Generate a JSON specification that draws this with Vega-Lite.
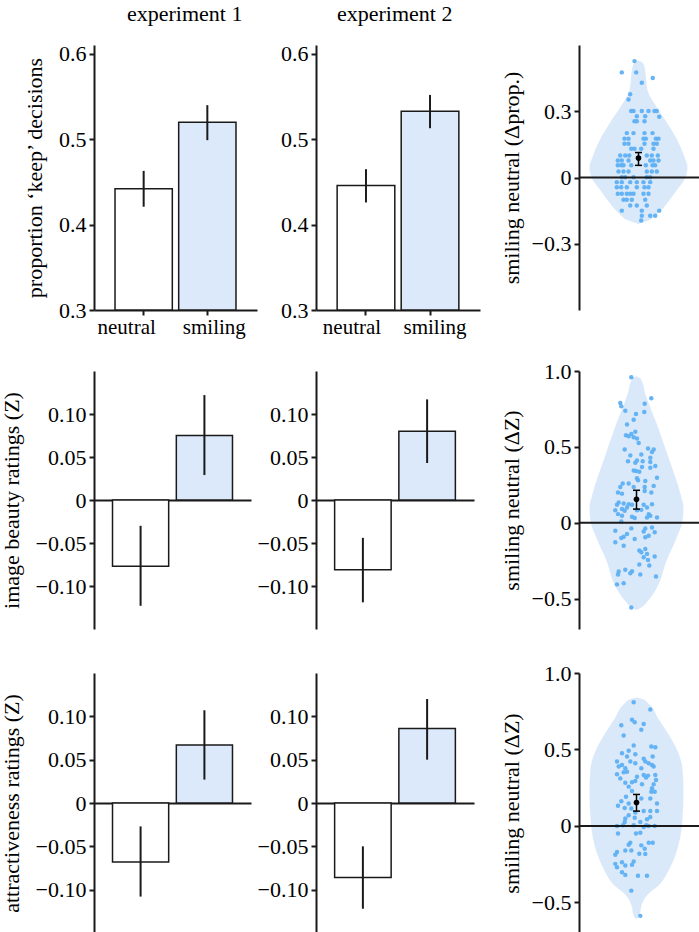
{
"$schema": "https://vega.github.io/schema/vega-lite/v6.json",
"autosize": {"type": "pad"},
"padding": {"left": 0, "top": 3, "right": 0, "bottom": 0},
"columns": 3,
"align": "each",
"bounds": "flush",
"spacing": {"row": 44, "column": 59},
"datasets": {
"bars": [
{"m":"keep","e":1,"c":"neutral","v":0.442,"lo":0.421,"hi":0.463},
{"m":"keep","e":1,"c":"smiling","v":0.520,"lo":0.499,"hi":0.540},
{"m":"keep","e":2,"c":"neutral","v":0.446,"lo":0.426,"hi":0.465},
{"m":"keep","e":2,"c":"smiling","v":0.533,"lo":0.513,"hi":0.552},
{"m":"beauty","e":1,"c":"neutral","v":-0.077,"lo":-0.123,"hi":-0.030},
{"m":"beauty","e":1,"c":"smiling","v":0.075,"lo":0.029,"hi":0.122},
{"m":"beauty","e":2,"c":"neutral","v":-0.081,"lo":-0.119,"hi":-0.044},
{"m":"beauty","e":2,"c":"smiling","v":0.080,"lo":0.043,"hi":0.117},
{"m":"attract","e":1,"c":"neutral","v":-0.068,"lo":-0.108,"hi":-0.027},
{"m":"attract","e":1,"c":"smiling","v":0.067,"lo":0.027,"hi":0.107},
{"m":"attract","e":2,"c":"neutral","v":-0.086,"lo":-0.122,"hi":-0.050},
{"m":"attract","e":2,"c":"smiling","v":0.086,"lo":0.050,"hi":0.120}
],
"means": [
{"m":"keep","v":0.088,"lo":0.055,"hi":0.113},
{"m":"beauty","v":0.155,"lo":0.090,"hi":0.214},
{"m":"attract","v":0.153,"lo":0.097,"hi":0.206}
],
"violin": [
{"m":"keep","v":0.53,"l":0,"r":0},{"m":"keep","v":0.52,"l":-4,"r":4},{"m":"keep","v":0.50,"l":-6,"r":6},{"m":"keep","v":0.45,"l":-7.5,"r":7.5},{"m":"keep","v":0.395,"l":-9,"r":9},{"m":"keep","v":0.32,"l":-18,"r":18},{"m":"keep","v":0.245,"l":-29,"r":29},{"m":"keep","v":0.168,"l":-39,"r":39},{"m":"keep","v":0.093,"l":-46,"r":46},{"m":"keep","v":0.047,"l":-49,"r":49},{"m":"keep","v":0.0,"l":-47,"r":47},{"m":"keep","v":-0.059,"l":-38,"r":38},{"m":"keep","v":-0.12,"l":-28,"r":28},{"m":"keep","v":-0.165,"l":-19,"r":19},{"m":"keep","v":-0.195,"l":-10,"r":10},{"m":"keep","v":-0.21,"l":0,"r":0},
{"m":"beauty","v":0.965,"l":0,"r":0},{"m":"beauty","v":0.95,"l":-4,"r":4},{"m":"beauty","v":0.845,"l":-9,"r":9},{"m":"beauty","v":0.62,"l":-22,"r":22},{"m":"beauty","v":0.41,"l":-33,"r":33},{"m":"beauty","v":0.19,"l":-44,"r":44},{"m":"beauty","v":0.10,"l":-47,"r":47},{"m":"beauty","v":0.01,"l":-46,"r":46},{"m":"beauty","v":-0.10,"l":-40,"r":40},{"m":"beauty","v":-0.25,"l":-30,"r":30},{"m":"beauty","v":-0.42,"l":-21,"r":21},{"m":"beauty","v":-0.51,"l":-12,"r":12},{"m":"beauty","v":-0.565,"l":-3,"r":3},{"m":"beauty","v":-0.575,"l":0,"r":0},
{"m":"attract","v":0.84,"l":0,"r":0},{"m":"attract","v":0.83,"l":-6,"r":6},{"m":"attract","v":0.80,"l":-12,"r":12},{"m":"attract","v":0.70,"l":-22,"r":22},{"m":"attract","v":0.60,"l":-32,"r":32},{"m":"attract","v":0.49,"l":-41,"r":41},{"m":"attract","v":0.375,"l":-46,"r":46},{"m":"attract","v":0.22,"l":-47,"r":47},{"m":"attract","v":0.05,"l":-46,"r":46},{"m":"attract","v":-0.125,"l":-42,"r":42},{"m":"attract","v":-0.28,"l":-33,"r":33},{"m":"attract","v":-0.39,"l":-22,"r":22},{"m":"attract","v":-0.45,"l":-11,"r":11},{"m":"attract","v":-0.52,"l":-5,"r":5},{"m":"attract","v":-0.585,"l":-3,"r":3},{"m":"attract","v":-0.61,"l":0,"r":0}
],
"pts": [
{"m":"keep","x":-4,"y":0.527},{"m":"keep","x":-16.7,"y":0.476},{"m":"keep","x":-2.3,"y":0.476},{"m":"keep","x":14.3,"y":0.451},{"m":"keep","x":3.3,"y":0.429},{"m":"keep","x":-8.3,"y":0.377},{"m":"keep","x":-10,"y":0.353},
{"m":"keep","x":-7.3,"y":0.301},{"m":"keep","x":-5,"y":0.301},{"m":"keep","x":3.3,"y":0.301},{"m":"keep","x":10,"y":0.301},{"m":"keep","x":16,"y":0.301},{"m":"keep","x":18.3,"y":0.301},
{"m":"keep","x":-1.7,"y":0.277},{"m":"keep","x":6.7,"y":0.277},{"m":"keep","x":20.7,"y":0.275},
{"m":"keep","x":-4,"y":0.255},{"m":"keep","x":-1.7,"y":0.255},{"m":"keep","x":6,"y":0.255},
{"m":"keep","x":-11.7,"y":0.201},{"m":"keep","x":-5,"y":0.201},{"m":"keep","x":6,"y":0.201},{"m":"keep","x":14,"y":0.201},
{"m":"keep","x":-14,"y":0.176},{"m":"keep","x":-10,"y":0.176},{"m":"keep","x":5,"y":0.176},{"m":"keep","x":7.3,"y":0.176},{"m":"keep","x":17.3,"y":0.176},{"m":"keep","x":20,"y":0.176},
{"m":"keep","x":-14,"y":0.153},{"m":"keep","x":-10,"y":0.153},{"m":"keep","x":6,"y":0.153},{"m":"keep","x":15,"y":0.153},{"m":"keep","x":18.3,"y":0.153},
{"m":"keep","x":-7.3,"y":0.130},{"m":"keep","x":-4,"y":0.130},{"m":"keep","x":2.7,"y":0.130},{"m":"keep","x":15,"y":0.130},
{"m":"keep","x":-18.3,"y":0.100},{"m":"keep","x":-13.3,"y":0.100},{"m":"keep","x":-9.3,"y":0.100},{"m":"keep","x":8.3,"y":0.100},{"m":"keep","x":13.3,"y":0.100},{"m":"keep","x":19.3,"y":0.100},
{"m":"keep","x":-20.7,"y":0.077},{"m":"keep","x":-16.7,"y":0.077},{"m":"keep","x":-10,"y":0.077},{"m":"keep","x":11.7,"y":0.077},{"m":"keep","x":15,"y":0.077},{"m":"keep","x":20,"y":0.077},
{"m":"keep","x":-20.7,"y":0.055},{"m":"keep","x":-17.3,"y":0.055},{"m":"keep","x":-15,"y":0.055},{"m":"keep","x":-7.3,"y":0.055},{"m":"keep","x":7.3,"y":0.055},{"m":"keep","x":14,"y":0.055},{"m":"keep","x":16.7,"y":0.055},
{"m":"keep","x":-20,"y":0.027},{"m":"keep","x":-15,"y":0.027},{"m":"keep","x":-10,"y":0.027},{"m":"keep","x":8.3,"y":0.027},{"m":"keep","x":13.3,"y":0.027},{"m":"keep","x":18.3,"y":0.027},
{"m":"keep","x":-16.7,"y":0.001},{"m":"keep","x":-13.3,"y":0.001},{"m":"keep","x":-5,"y":0.001},{"m":"keep","x":8.3,"y":0.001},{"m":"keep","x":11.7,"y":0.001},
{"m":"keep","x":-21.7,"y":-0.021},{"m":"keep","x":-16.7,"y":-0.021},{"m":"keep","x":-8.3,"y":-0.021},{"m":"keep","x":-1.7,"y":-0.021},{"m":"keep","x":5,"y":-0.021},{"m":"keep","x":11.7,"y":-0.021},
{"m":"keep","x":-21.7,"y":-0.044},{"m":"keep","x":-17.3,"y":-0.044},{"m":"keep","x":-11.7,"y":-0.044},{"m":"keep","x":-1.7,"y":-0.044},{"m":"keep","x":6,"y":-0.044},{"m":"keep","x":10,"y":-0.044},
{"m":"keep","x":-20.7,"y":-0.074},{"m":"keep","x":-16.7,"y":-0.074},{"m":"keep","x":-11.7,"y":-0.074},{"m":"keep","x":-8.3,"y":-0.074},{"m":"keep","x":-5,"y":-0.074},{"m":"keep","x":5,"y":-0.074},{"m":"keep","x":10,"y":-0.074},
{"m":"keep","x":-15,"y":-0.101},{"m":"keep","x":-11.7,"y":-0.101},{"m":"keep","x":-6.7,"y":-0.101},{"m":"keep","x":6.7,"y":-0.101},
{"m":"keep","x":-8.3,"y":-0.127},{"m":"keep","x":-1.7,"y":-0.127},{"m":"keep","x":8.3,"y":-0.127},
{"m":"keep","x":-16.7,"y":-0.150},{"m":"keep","x":3.3,"y":-0.150},{"m":"keep","x":20.7,"y":-0.150},
{"m":"keep","x":3.3,"y":-0.173},{"m":"keep","x":11.7,"y":-0.173},{"m":"keep","x":16.7,"y":-0.173},
{"m":"keep","x":2.7,"y":-0.195},
{"m":"beauty","x":-5.2,"y":0.959},{"m":"beauty","x":14.8,"y":0.821},{"m":"beauty","x":-16.2,"y":0.789},{"m":"beauty","x":8.2,"y":0.784},{"m":"beauty","x":-15.2,"y":0.767},{"m":"beauty","x":-11.2,"y":0.738},{"m":"beauty","x":-0.5,"y":0.716},{"m":"beauty","x":7.8,"y":0.730},{"m":"beauty","x":-2.8,"y":0.679},{"m":"beauty","x":-9.5,"y":0.647},
{"m":"beauty","x":-1.2,"y":0.599},{"m":"beauty","x":-5.2,"y":0.585},{"m":"beauty","x":-10.5,"y":0.577},{"m":"beauty","x":-7.8,"y":0.570},{"m":"beauty","x":-2.8,"y":0.564},{"m":"beauty","x":0.5,"y":0.555},{"m":"beauty","x":2.2,"y":0.526},
{"m":"beauty","x":-11.8,"y":0.483},{"m":"beauty","x":11.5,"y":0.489},{"m":"beauty","x":17.2,"y":0.483},{"m":"beauty","x":15.5,"y":0.467},{"m":"beauty","x":4.8,"y":0.450},{"m":"beauty","x":-6.2,"y":0.444},{"m":"beauty","x":13.8,"y":0.428},
{"m":"beauty","x":0.5,"y":0.411},{"m":"beauty","x":6.2,"y":0.406},{"m":"beauty","x":-8.5,"y":0.406},{"m":"beauty","x":13.8,"y":0.400},{"m":"beauty","x":-1.2,"y":0.395},{"m":"beauty","x":18.8,"y":0.374},{"m":"beauty","x":13.8,"y":0.363},{"m":"beauty","x":5.5,"y":0.367},
{"m":"beauty","x":-2.8,"y":0.345},{"m":"beauty","x":-0.5,"y":0.341},{"m":"beauty","x":2.8,"y":0.336},{"m":"beauty","x":20.5,"y":0.297},{"m":"beauty","x":0.5,"y":0.293},{"m":"beauty","x":1.5,"y":0.280},
{"m":"beauty","x":-13.8,"y":0.258},{"m":"beauty","x":-7.8,"y":0.258},{"m":"beauty","x":8.8,"y":0.275},{"m":"beauty","x":-16.2,"y":0.236},{"m":"beauty","x":-2.8,"y":0.236},{"m":"beauty","x":8.2,"y":0.236},{"m":"beauty","x":17.2,"y":0.243},
{"m":"beauty","x":-18.5,"y":0.199},{"m":"beauty","x":-14.5,"y":0.192},{"m":"beauty","x":14.8,"y":0.199},{"m":"beauty","x":8.2,"y":0.210},
{"m":"beauty","x":-17.8,"y":0.133},{"m":"beauty","x":-19.5,"y":0.118},{"m":"beauty","x":-12.8,"y":0.127},{"m":"beauty","x":-7.8,"y":0.122},{"m":"beauty","x":-4.5,"y":0.118},{"m":"beauty","x":-9.5,"y":0.100},{"m":"beauty","x":15.5,"y":0.122},{"m":"beauty","x":7.2,"y":0.118},{"m":"beauty","x":10.5,"y":0.100},
{"m":"beauty","x":-21.2,"y":0.083},{"m":"beauty","x":-14.5,"y":0.090},{"m":"beauty","x":-11.8,"y":0.079},{"m":"beauty","x":0.5,"y":0.083},{"m":"beauty","x":4.8,"y":0.085},{"m":"beauty","x":12.2,"y":0.057},{"m":"beauty","x":13.8,"y":0.046},{"m":"beauty","x":-18.5,"y":0.057},{"m":"beauty","x":-4.5,"y":0.039},{"m":"beauty","x":-1.8,"y":0.031},{"m":"beauty","x":-14.5,"y":0.046},{"m":"beauty","x":20.5,"y":0.035},{"m":"beauty","x":10.5,"y":0.035},
{"m":"beauty","x":-15.2,"y":0.009},
{"m":"beauty","x":-5.2,"y":-0.037},{"m":"beauty","x":8.8,"y":-0.037},{"m":"beauty","x":15.5,"y":-0.031},{"m":"beauty","x":-21.2,"y":-0.052},{"m":"beauty","x":7.2,"y":-0.057},{"m":"beauty","x":-9.5,"y":-0.074},{"m":"beauty","x":-12.8,"y":-0.092},{"m":"beauty","x":-15.2,"y":-0.100},{"m":"beauty","x":12.2,"y":-0.085},{"m":"beauty","x":18.2,"y":-0.063},{"m":"beauty","x":-1.8,"y":-0.107},{"m":"beauty","x":8.8,"y":-0.096},
{"m":"beauty","x":-21.2,"y":-0.129},{"m":"beauty","x":-12.8,"y":-0.151},
{"m":"beauty","x":2.8,"y":-0.183},{"m":"beauty","x":4.8,"y":-0.194},{"m":"beauty","x":10.5,"y":-0.205},{"m":"beauty","x":8.8,"y":-0.173},{"m":"beauty","x":18.2,"y":-0.223},{"m":"beauty","x":7.2,"y":-0.227},{"m":"beauty","x":11.5,"y":-0.245},
{"m":"beauty","x":2.8,"y":-0.275},{"m":"beauty","x":12.8,"y":-0.282},{"m":"beauty","x":-17.8,"y":-0.321},{"m":"beauty","x":-11.2,"y":-0.310},{"m":"beauty","x":-4.5,"y":-0.319},{"m":"beauty","x":-18.5,"y":-0.341},{"m":"beauty","x":-6.2,"y":-0.332},{"m":"beauty","x":3.8,"y":-0.341},{"m":"beauty","x":-12.8,"y":-0.398},{"m":"beauty","x":-19.5,"y":-0.406},{"m":"beauty","x":19.5,"y":-0.354},
{"m":"beauty","x":-5.2,"y":-0.559},
{"m":"attract","x":-2.8,"y":0.809},{"m":"attract","x":13.8,"y":0.761},
{"m":"attract","x":-4.5,"y":0.695},{"m":"attract","x":-15.2,"y":0.658},{"m":"attract","x":-1.8,"y":0.678},{"m":"attract","x":7.2,"y":0.667},{"m":"attract","x":4.8,"y":0.629},{"m":"attract","x":-12.8,"y":0.592},
{"m":"attract","x":-2.8,"y":0.526},{"m":"attract","x":14.8,"y":0.520},{"m":"attract","x":18.8,"y":0.515},{"m":"attract","x":-7.8,"y":0.491},{"m":"attract","x":-14.5,"y":0.476},{"m":"attract","x":-1.2,"y":0.469},{"m":"attract","x":-9.5,"y":0.454},{"m":"attract","x":-19.5,"y":0.421},{"m":"attract","x":-6.2,"y":0.421},{"m":"attract","x":7.2,"y":0.439},{"m":"attract","x":8.8,"y":0.421},{"m":"attract","x":12.2,"y":0.410},{"m":"attract","x":15.5,"y":0.399},{"m":"attract","x":16.2,"y":0.454},
{"m":"attract","x":-17.8,"y":0.388},{"m":"attract","x":-14.5,"y":0.399},{"m":"attract","x":-11.2,"y":0.377},{"m":"attract","x":-1.2,"y":0.410},{"m":"attract","x":17.2,"y":0.388},{"m":"attract","x":4.8,"y":0.377},{"m":"attract","x":-12.8,"y":0.351},{"m":"attract","x":-9.5,"y":0.355},{"m":"attract","x":-19.5,"y":0.338},{"m":"attract","x":0.5,"y":0.322},{"m":"attract","x":7.2,"y":0.333},{"m":"attract","x":18.8,"y":0.333},
{"m":"attract","x":-16.2,"y":0.311},{"m":"attract","x":9.5,"y":0.316},{"m":"attract","x":11.5,"y":0.329},{"m":"attract","x":-1.2,"y":0.294},{"m":"attract","x":-11.2,"y":0.283},{"m":"attract","x":-4.5,"y":0.285},{"m":"attract","x":19.5,"y":0.301},{"m":"attract","x":5.5,"y":0.272},{"m":"attract","x":17.2,"y":0.272},
{"m":"attract","x":-7.8,"y":0.257},{"m":"attract","x":15.5,"y":0.246},{"m":"attract","x":14.8,"y":0.224},{"m":"attract","x":18.2,"y":0.224},{"m":"attract","x":-4.5,"y":0.228},
{"m":"attract","x":-10.5,"y":0.191},{"m":"attract","x":-15.2,"y":0.162},{"m":"attract","x":13.8,"y":0.180},{"m":"attract","x":4.8,"y":0.180},{"m":"attract","x":-7.8,"y":0.147},
{"m":"attract","x":-18.5,"y":0.132},{"m":"attract","x":-11.8,"y":0.118},{"m":"attract","x":20.5,"y":0.147},{"m":"attract","x":-1.2,"y":0.088},{"m":"attract","x":13.8,"y":0.097},{"m":"attract","x":7.2,"y":0.097},{"m":"attract","x":20.5,"y":0.097},{"m":"attract","x":-5.2,"y":0.114},
{"m":"attract","x":-7.8,"y":0.070},{"m":"attract","x":-11.2,"y":0.048},{"m":"attract","x":-1.8,"y":0.053},{"m":"attract","x":13.8,"y":0.059},{"m":"attract","x":-11.8,"y":0.026},{"m":"attract","x":10.5,"y":0.044},{"m":"attract","x":3.8,"y":0.026},{"m":"attract","x":-13.5,"y":0.004},{"m":"attract","x":9.8,"y":0.004},{"m":"attract","x":-19.5,"y":0.0},{"m":"attract","x":18.2,"y":0.0},{"m":"attract","x":7.2,"y":-0.007},{"m":"attract","x":12.2,"y":0.0},{"m":"attract","x":-2.8,"y":0.004},
{"m":"attract","x":-18.5,"y":-0.050},{"m":"attract","x":-0.5,"y":-0.050},{"m":"attract","x":3.8,"y":-0.044},
{"m":"attract","x":-6.2,"y":-0.110},{"m":"attract","x":-7.8,"y":-0.123},{"m":"attract","x":4.8,"y":-0.127},{"m":"attract","x":12.2,"y":-0.110},{"m":"attract","x":16.2,"y":-0.110},{"m":"attract","x":8.2,"y":-0.149},{"m":"attract","x":-5.2,"y":-0.160},{"m":"attract","x":2.8,"y":-0.182},{"m":"attract","x":-19.5,"y":-0.171},{"m":"attract","x":-21.2,"y":-0.189},{"m":"attract","x":8.8,"y":-0.184},{"m":"attract","x":-11.2,"y":-0.160},
{"m":"attract","x":-21.2,"y":-0.248},{"m":"attract","x":-14.5,"y":-0.237},{"m":"attract","x":-2.8,"y":-0.232},{"m":"attract","x":-19.5,"y":-0.270},{"m":"attract","x":-11.2,"y":-0.259},{"m":"attract","x":-4.5,"y":-0.254},{"m":"attract","x":-14.5,"y":-0.303},{"m":"attract","x":-11.2,"y":-0.320},{"m":"attract","x":1.5,"y":-0.325},{"m":"attract","x":10.5,"y":-0.325},
{"m":"attract","x":-5.2,"y":-0.423},
{"m":"attract","x":3.8,"y":-0.588}
]
},
"concat": [
{
"width": 163, "height": 282,
"title": {"text": "experiment 1", "anchor": "start", "frame": "group", "dx": 33, "offset": 2},
"data": {"name": "bars"},
"transform": [{"filter": "datum.m == 'keep' && datum.e == 1"}],
"layer": [
{"mark": {"type": "bar", "stroke": "#1a1a1a", "strokeWidth": 1.5},
"encoding": {
"x": {"field": "c", "type": "nominal", "scale": {"domain": ["neutral","smiling"], "range": [0,163], "paddingInner": 0.1, "paddingOuter": 0.33}, "axis": {"title": null, "labelAngle": 0, "labelPadding": 1, "labelFontSize": 21, "labelOffset": {"condition": {"test": "datum.value == 'neutral'", "value": -17}, "value": 7}}},
"y": {"field": "v", "type": "quantitative", "scale": {"domain": [0.3,0.6105], "range": [282,17], "nice": false, "zero": false}, "axis": {"values": [0.3,0.4,0.5,0.6], "format": ".1f", "title": "proportion ‘keep’ decisions"}},
"y2": {"datum": 0.3},
"fill": {"field": "c", "type": "nominal", "scale": {"domain": ["neutral","smiling"], "range": ["#ffffff","#dbe9fb"]}, "legend": null}
}},
{"mark": {"type": "rule", "strokeWidth": 2, "color": "#1a1a1a"},
"encoding": {"x": {"field": "c", "type": "nominal"}, "y": {"field": "lo", "type": "quantitative"}, "y2": {"field": "hi"}}}
]
},
{
"width": 204, "height": 282,
"title": {"text": "experiment 2", "anchor": "start", "frame": "group", "dx": 21, "offset": 2},
"data": {"name": "bars"},
"transform": [{"filter": "datum.m == 'keep' && datum.e == 2"}],
"layer": [
{"mark": {"type": "bar", "stroke": "#1a1a1a", "strokeWidth": 1.5},
"encoding": {
"x": {"field": "c", "type": "nominal", "scale": {"domain": ["neutral","smiling"], "range": [0,164], "paddingInner": 0.1, "paddingOuter": 0.33}, "axis": {"title": null, "labelAngle": 0, "labelPadding": 1, "labelFontSize": 21, "labelOffset": {"condition": {"test": "datum.value == 'neutral'", "value": -14}, "value": 5}}},
"y": {"field": "v", "type": "quantitative", "scale": {"domain": [0.3,0.6105], "range": [282,17], "nice": false, "zero": false}, "axis": {"values": [0.3,0.4,0.5,0.6], "format": ".1f", "title": null}},
"y2": {"datum": 0.3},
"fill": {"field": "c", "type": "nominal", "scale": {"domain": ["neutral","smiling"], "range": ["#ffffff","#dbe9fb"]}, "legend": null}
}},
{"mark": {"type": "rule", "strokeWidth": 2, "color": "#1a1a1a"},
"encoding": {"x": {"field": "c", "type": "nominal"}, "y": {"field": "lo", "type": "quantitative"}, "y2": {"field": "hi"}}}
]
},
{
"width": 120, "height": 282,
"layer": [
{"data": {"name": "violin"}, "transform": [{"filter": "datum.m == 'keep'"}],
"mark": {"type": "area", "orient": "horizontal", "interpolate": "monotone", "color": "#dae9fa", "opacity": 1},
"encoding": {
"y": {"field": "v", "type": "quantitative", "scale": {"domain": [-0.6,0.6], "range": [282,17], "nice": false, "zero": false}, "axis": {"values": [-0.3,0,0.3], "format": ".1f", "labelExpr": "datum.value == 0 ? '0' : datum.label", "title": "smiling neutral (Δprop.)", "titlePadding": 8}},
"x": {"field": "l", "type": "quantitative", "scale": {"domain": [-59.5,60.5], "nice": false, "zero": false}, "axis": null},
"x2": {"field": "r"}
}},
{"data": {"name": "pts"}, "transform": [{"filter": "datum.m == 'keep'"}],
"mark": {"type": "circle", "size": 20, "opacity": 0.95, "color": "#5eb0f3"},
"encoding": {"x": {"field": "x", "type": "quantitative", "axis": null}, "y": {"field": "y", "type": "quantitative"}}},
{"data": {"name": "means"}, "transform": [{"filter": "datum.m == 'keep'"}],
"mark": {"type": "rule", "strokeWidth": 2, "color": "#1a1a1a"},
"encoding": {"y": {"datum": 0}}},
{"data": {"name": "means"}, "transform": [{"filter": "datum.m == 'keep'"}],
"mark": {"type": "rule", "strokeWidth": 1.5, "color": "black"},
"encoding": {"x": {"datum": 0, "axis": null}, "y": {"field": "lo", "type": "quantitative"}, "y2": {"field": "hi"}}},
{"data": {"name": "means"}, "transform": [{"filter": "datum.m == 'keep'"}],
"mark": {"type": "tick", "orient": "horizontal", "size": 7, "thickness": 1.5, "color": "black", "opacity": 1},
"encoding": {"x": {"datum": 0, "axis": null}, "y": {"field": "lo", "type": "quantitative"}}},
{"data": {"name": "means"}, "transform": [{"filter": "datum.m == 'keep'"}],
"mark": {"type": "tick", "orient": "horizontal", "size": 7, "thickness": 1.5, "color": "black", "opacity": 1},
"encoding": {"x": {"datum": 0, "axis": null}, "y": {"field": "hi", "type": "quantitative"}}},
{"data": {"name": "means"}, "transform": [{"filter": "datum.m == 'keep'"}],
"mark": {"type": "circle", "size": 32, "opacity": 1, "color": "black"},
"encoding": {"x": {"datum": 0, "axis": null}, "y": {"field": "v", "type": "quantitative"}}}
]
},
{
"width": 163, "height": 275,
"data": {"name": "bars"},
"transform": [{"filter": "datum.m == 'beauty' && datum.e == 1"}],
"layer": [
{"mark": {"type": "bar", "stroke": "#1a1a1a", "strokeWidth": 1.5},
"encoding": {
"x": {"field": "c", "type": "nominal", "scale": {"domain": ["neutral","smiling"], "range": [0,157], "paddingInner": 0.12, "paddingOuter": 0.29}, "axis": {"title": null, "labels": false, "ticks": false, "offset": -129}},
"y": {"field": "v", "type": "quantitative", "scale": {"domain": [-0.15,0.15], "range": [275,17], "nice": false}, "axis": {"values": [-0.1,-0.05,0,0.05,0.1], "format": ".2f", "labelExpr": "datum.value == 0 ? '0' : datum.label", "title": "image beauty ratings (Z)"}},
"y2": {"datum": 0},
"fill": {"field": "c", "type": "nominal", "scale": {"domain": ["neutral","smiling"], "range": ["#ffffff","#dbe9fb"]}, "legend": null}
}},
{"mark": {"type": "rule", "strokeWidth": 2, "color": "#1a1a1a"},
"encoding": {"x": {"field": "c", "type": "nominal"}, "y": {"field": "lo", "type": "quantitative"}, "y2": {"field": "hi"}}}
]
},
{
"width": 204, "height": 275,
"data": {"name": "bars"},
"transform": [{"filter": "datum.m == 'beauty' && datum.e == 2"}],
"layer": [
{"mark": {"type": "bar", "stroke": "#1a1a1a", "strokeWidth": 1.5},
"encoding": {
"x": {"field": "c", "type": "nominal", "scale": {"domain": ["neutral","smiling"], "range": [0,158], "paddingInner": 0.12, "paddingOuter": 0.29}, "axis": {"title": null, "labels": false, "ticks": false, "offset": -129}},
"y": {"field": "v", "type": "quantitative", "scale": {"domain": [-0.15,0.15], "range": [275,17], "nice": false}, "axis": {"values": [-0.1,-0.05,0,0.05,0.1], "format": ".2f", "labelExpr": "datum.value == 0 ? '0' : datum.label", "title": null}},
"y2": {"datum": 0},
"fill": {"field": "c", "type": "nominal", "scale": {"domain": ["neutral","smiling"], "range": ["#ffffff","#dbe9fb"]}, "legend": null}
}},
{"mark": {"type": "rule", "strokeWidth": 2, "color": "#1a1a1a"},
"encoding": {"x": {"field": "c", "type": "nominal"}, "y": {"field": "lo", "type": "quantitative"}, "y2": {"field": "hi"}}}
]
},
{
"width": 120, "height": 275,
"layer": [
{"data": {"name": "violin"}, "transform": [{"filter": "datum.m == 'beauty'"}],
"mark": {"type": "area", "orient": "horizontal", "interpolate": "monotone", "color": "#dae9fa", "opacity": 1},
"encoding": {
"y": {"field": "v", "type": "quantitative", "scale": {"domain": [-0.7,1.0], "range": [275,17], "nice": false, "zero": false}, "axis": {"values": [-0.5,0,0.5,1.0], "format": ".1f", "labelExpr": "datum.value == 0 ? '0' : datum.label", "title": "smiling neutral (ΔZ)", "titlePadding": 8}},
"x": {"field": "l", "type": "quantitative", "scale": {"domain": [-57.5,62.5], "nice": false, "zero": false}, "axis": null},
"x2": {"field": "r"}
}},
{"data": {"name": "pts"}, "transform": [{"filter": "datum.m == 'beauty'"}],
"mark": {"type": "circle", "size": 20, "opacity": 0.95, "color": "#5eb0f3"},
"encoding": {"x": {"field": "x", "type": "quantitative", "axis": null}, "y": {"field": "y", "type": "quantitative"}}},
{"data": {"name": "means"}, "transform": [{"filter": "datum.m == 'beauty'"}],
"mark": {"type": "rule", "strokeWidth": 2, "color": "#1a1a1a"},
"encoding": {"y": {"datum": 0}}},
{"data": {"name": "means"}, "transform": [{"filter": "datum.m == 'beauty'"}],
"mark": {"type": "rule", "strokeWidth": 1.5, "color": "black"},
"encoding": {"x": {"datum": 0, "axis": null}, "y": {"field": "lo", "type": "quantitative"}, "y2": {"field": "hi"}}},
{"data": {"name": "means"}, "transform": [{"filter": "datum.m == 'beauty'"}],
"mark": {"type": "tick", "orient": "horizontal", "size": 7, "thickness": 1.5, "color": "black", "opacity": 1},
"encoding": {"x": {"datum": 0, "axis": null}, "y": {"field": "lo", "type": "quantitative"}}},
{"data": {"name": "means"}, "transform": [{"filter": "datum.m == 'beauty'"}],
"mark": {"type": "tick", "orient": "horizontal", "size": 7, "thickness": 1.5, "color": "black", "opacity": 1},
"encoding": {"x": {"datum": 0, "axis": null}, "y": {"field": "hi", "type": "quantitative"}}},
{"data": {"name": "means"}, "transform": [{"filter": "datum.m == 'beauty'"}],
"mark": {"type": "circle", "size": 32, "opacity": 1, "color": "black"},
"encoding": {"x": {"datum": 0, "axis": null}, "y": {"field": "v", "type": "quantitative"}}}
]
},
{
"width": 163, "height": 260,
"data": {"name": "bars"},
"transform": [{"filter": "datum.m == 'attract' && datum.e == 1"}],
"layer": [
{"mark": {"type": "bar", "stroke": "#1a1a1a", "strokeWidth": 1.5},
"encoding": {
"x": {"field": "c", "type": "nominal", "scale": {"domain": ["neutral","smiling"], "range": [0,157], "paddingInner": 0.12, "paddingOuter": 0.29}, "axis": {"title": null, "labels": false, "ticks": false, "offset": -130}},
"y": {"field": "v", "type": "quantitative", "scale": {"domain": [-0.15,0.15], "nice": false}, "axis": {"values": [-0.1,-0.05,0,0.05,0.1], "format": ".2f", "labelExpr": "datum.value == 0 ? '0' : datum.label", "title": "attractiveness ratings (Z)"}},
"y2": {"datum": 0},
"fill": {"field": "c", "type": "nominal", "scale": {"domain": ["neutral","smiling"], "range": ["#ffffff","#dbe9fb"]}, "legend": null}
}},
{"mark": {"type": "rule", "strokeWidth": 2, "color": "#1a1a1a"},
"encoding": {"x": {"field": "c", "type": "nominal"}, "y": {"field": "lo", "type": "quantitative"}, "y2": {"field": "hi"}}}
]
},
{
"width": 204, "height": 260,
"data": {"name": "bars"},
"transform": [{"filter": "datum.m == 'attract' && datum.e == 2"}],
"layer": [
{"mark": {"type": "bar", "stroke": "#1a1a1a", "strokeWidth": 1.5},
"encoding": {
"x": {"field": "c", "type": "nominal", "scale": {"domain": ["neutral","smiling"], "range": [0,158], "paddingInner": 0.12, "paddingOuter": 0.29}, "axis": {"title": null, "labels": false, "ticks": false, "offset": -130}},
"y": {"field": "v", "type": "quantitative", "scale": {"domain": [-0.15,0.15], "nice": false}, "axis": {"values": [-0.1,-0.05,0,0.05,0.1], "format": ".2f", "labelExpr": "datum.value == 0 ? '0' : datum.label", "title": null}},
"y2": {"datum": 0},
"fill": {"field": "c", "type": "nominal", "scale": {"domain": ["neutral","smiling"], "range": ["#ffffff","#dbe9fb"]}, "legend": null}
}},
{"mark": {"type": "rule", "strokeWidth": 2, "color": "#1a1a1a"},
"encoding": {"x": {"field": "c", "type": "nominal"}, "y": {"field": "lo", "type": "quantitative"}, "y2": {"field": "hi"}}}
]
},
{
"width": 120, "height": 260,
"layer": [
{"data": {"name": "violin"}, "transform": [{"filter": "datum.m == 'attract'"}],
"mark": {"type": "area", "orient": "horizontal", "interpolate": "monotone", "color": "#dae9fa", "opacity": 1},
"encoding": {
"y": {"field": "v", "type": "quantitative", "scale": {"domain": [-0.7,1.0], "nice": false, "zero": false}, "axis": {"values": [-0.5,0,0.5,1.0], "format": ".1f", "labelExpr": "datum.value == 0 ? '0' : datum.label", "title": "smiling neutral (ΔZ)", "titlePadding": 8}},
"x": {"field": "l", "type": "quantitative", "scale": {"domain": [-57.5,62.5], "nice": false, "zero": false}, "axis": null},
"x2": {"field": "r"}
}},
{"data": {"name": "pts"}, "transform": [{"filter": "datum.m == 'attract'"}],
"mark": {"type": "circle", "size": 20, "opacity": 0.95, "color": "#5eb0f3"},
"encoding": {"x": {"field": "x", "type": "quantitative", "axis": null}, "y": {"field": "y", "type": "quantitative"}}},
{"data": {"name": "means"}, "transform": [{"filter": "datum.m == 'attract'"}],
"mark": {"type": "rule", "strokeWidth": 2, "color": "#1a1a1a"},
"encoding": {"y": {"datum": 0}}},
{"data": {"name": "means"}, "transform": [{"filter": "datum.m == 'attract'"}],
"mark": {"type": "rule", "strokeWidth": 1.5, "color": "black"},
"encoding": {"x": {"datum": 0, "axis": null}, "y": {"field": "lo", "type": "quantitative"}, "y2": {"field": "hi"}}},
{"data": {"name": "means"}, "transform": [{"filter": "datum.m == 'attract'"}],
"mark": {"type": "tick", "orient": "horizontal", "size": 7, "thickness": 1.5, "color": "black", "opacity": 1},
"encoding": {"x": {"datum": 0, "axis": null}, "y": {"field": "lo", "type": "quantitative"}}},
{"data": {"name": "means"}, "transform": [{"filter": "datum.m == 'attract'"}],
"mark": {"type": "tick", "orient": "horizontal", "size": 7, "thickness": 1.5, "color": "black", "opacity": 1},
"encoding": {"x": {"datum": 0, "axis": null}, "y": {"field": "hi", "type": "quantitative"}}},
{"data": {"name": "means"}, "transform": [{"filter": "datum.m == 'attract'"}],
"mark": {"type": "circle", "size": 32, "opacity": 1, "color": "black"},
"encoding": {"x": {"datum": 0, "axis": null}, "y": {"field": "v", "type": "quantitative"}}}
]
}
],
"config": {
"view": {"stroke": null},
"font": "Liberation Serif, Times New Roman, DejaVu Serif, serif",
"axis": {"labelFont": "Liberation Serif, Times New Roman, DejaVu Serif, serif", "labelFontSize": 22, "labelColor": "black", "titleFont": "Liberation Serif, Times New Roman, DejaVu Serif, serif", "titleFontSize": 22, "titleFontWeight": "normal", "titleColor": "black", "titlePadding": 12, "domainColor": "#1a1a1a", "domainWidth": 2, "tickColor": "#1a1a1a", "tickWidth": 2, "tickSize": 5, "labelPadding": 3, "grid": false, "labelOverlap": false, "labelBound": false},
"title": {"font": "Liberation Serif, Times New Roman, DejaVu Serif, serif", "fontSize": 22, "fontWeight": "normal", "color": "black"}
}
}
